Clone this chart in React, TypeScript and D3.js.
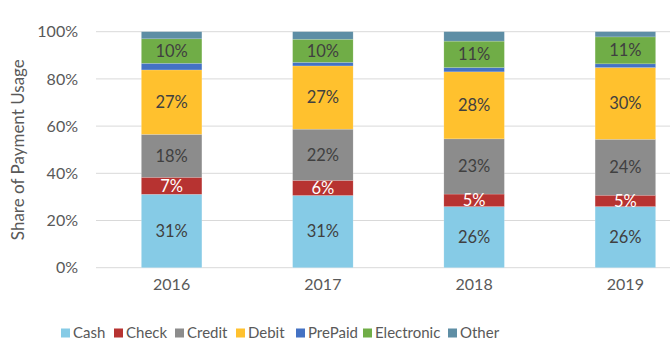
import React, { useRef, useEffect } from 'react';
import * as d3 from 'd3';

const years = ['2016', '2017', '2018', '2019'];
const methods = ['Cash', 'Check', 'Credit', 'Debit', 'PrePaid', 'Electronic', 'Other'];
const cash = [31.1, 30.6, 25.9, 25.9];
const check = [7.2, 6.4, 5.3, 4.8];
const credit = [18.2, 21.7, 23.4, 23.7];
const debit = [27.3, 26.8, 28.4, 30.4];
const prepaid = [2.8, 1.5, 1.8, 1.6];
const electronic = [10.4, 9.8, 11.2, 11.4];
const other = [3.0, 3.2, 4.0, 2.2];
const yTicks = [0, 20, 40, 60, 80, 100];

const colors = ['#86cbe6', '#b73331', '#8c8c8c', '#ffc12e', '#4472c4', '#70ad47', '#5e8ea5'];
const labelled = ['Cash', 'Check', 'Credit', 'Debit', 'Electronic'];

const App = () => {
    const svgRef = useRef<SVGSVGElement>(null);

    useEffect(() => {
        const svg = d3.select(svgRef.current);
        svg.selectAll('*').remove();

        const font = 'Lato, Carlito, Calibri, sans-serif';
        const margin = { top: 31.7, bottom: 90.3, left: 96, right: -31 };
        const width = 670;
        const height = 358;

        const series = [cash, check, credit, debit, prepaid, electronic, other];
        const rows = years.map((yr, i) => {
            const r: any = { year: yr };
            methods.forEach((m, j) => { r[m] = series[j][i]; });
            return r;
        });
        const stacked = d3.stack().keys(methods)(rows);

        const x = d3.scaleBand()
            .domain(years)
            .range([margin.left, width - margin.right])
            .paddingInner(0.6)
            .paddingOuter(0.3);

        const y = d3.scaleLinear()
            .domain([0, 100])
            .range([height - margin.bottom, margin.top]);

        // gridlines
        svg.append('g')
            .selectAll('line')
            .data(yTicks)
            .join('line')
            .attr('x1', margin.left)
            .attr('x2', width)
            .attr('y1', d => y(d))
            .attr('y2', d => y(d))
            .attr('stroke', '#d9d9d9')
            .attr('stroke-width', 1);

        // y tick labels
        svg.append('g')
            .selectAll('text')
            .data(yTicks)
            .join('text')
            .attr('x', 78)
            .attr('y', d => y(d))
            .attr('dy', '0.35em')
            .attr('text-anchor', 'end')
            .attr('font-family', font)
            .attr('font-size', 16)
            .attr('fill', '#595959')
            .text(d => d + '%');

        svg.append('text')
            .attr('transform', `translate(24,${(y(0) + y(100)) / 2}) rotate(-90)`)
            .attr('text-anchor', 'middle')
            .attr('font-family', font)
            .attr('font-size', 17)
            .attr('fill', '#595959')
            .text('Share of Payment Usage');

        // bars
        const groups = svg.append('g')
            .selectAll('g')
            .data(stacked)
            .join('g')
            .attr('fill', (d, i) => colors[i]);

        groups.selectAll('rect')
            .data(d => d)
            .join('rect')
            .attr('x', d => x(d.data.year as string)!)
            .attr('width', x.bandwidth())
            .attr('y', d => y(d[1]))
            .attr('height', d => y(d[0]) - y(d[1]))
            .attr('stroke', 'rgba(255,255,255,0.25)')
            .attr('stroke-width', 0.6);

        // data labels
        stacked.forEach(s => {
            if (!labelled.includes(s.key)) return;
            svg.append('g')
                .selectAll('text')
                .data(s)
                .join('text')
                .attr('x', d => x(d.data.year as string)! + x.bandwidth() / 2)
                .attr('y', d => y((d[0] + d[1]) / 2))
                .attr('dy', '0.35em')
                .attr('text-anchor', 'middle')
                .attr('font-family', font)
                .attr('font-size', 16.5)
                .attr('fill', s.key === 'Check' ? '#ffffff' : '#404040')
                .text(d => Math.round(d[1] - d[0]) + '%');
        });

        // x labels
        svg.append('g')
            .selectAll('text')
            .data(years)
            .join('text')
            .attr('x', d => x(d)! + x.bandwidth() / 2)
            .attr('y', 284)
            .attr('dy', '0.35em')
            .attr('text-anchor', 'middle')
            .attr('font-family', font)
            .attr('font-size', 16)
            .attr('fill', '#595959')
            .text(d => d);

        // legend
        const legendX = [61, 114, 175, 236, 296, 363, 448];
        const legend = svg.append('g');
        methods.forEach((m, i) => {
            legend.append('rect')
                .attr('x', legendX[i])
                .attr('y', 328.5)
                .attr('width', 9)
                .attr('height', 9)
                .attr('fill', colors[i]);
            legend.append('text')
                .attr('x', legendX[i] + 12)
                .attr('y', 333)
                .attr('dy', '0.35em')
                .attr('font-family', font)
                .attr('font-size', 15)
                .attr('fill', '#595959')
                .text(m);
        });
    }, []);

    return <svg ref={svgRef} width={670} height={358} style={{ position: 'absolute', left: 0, top: 0, background: '#fff' }}></svg>;
};

export default App;
